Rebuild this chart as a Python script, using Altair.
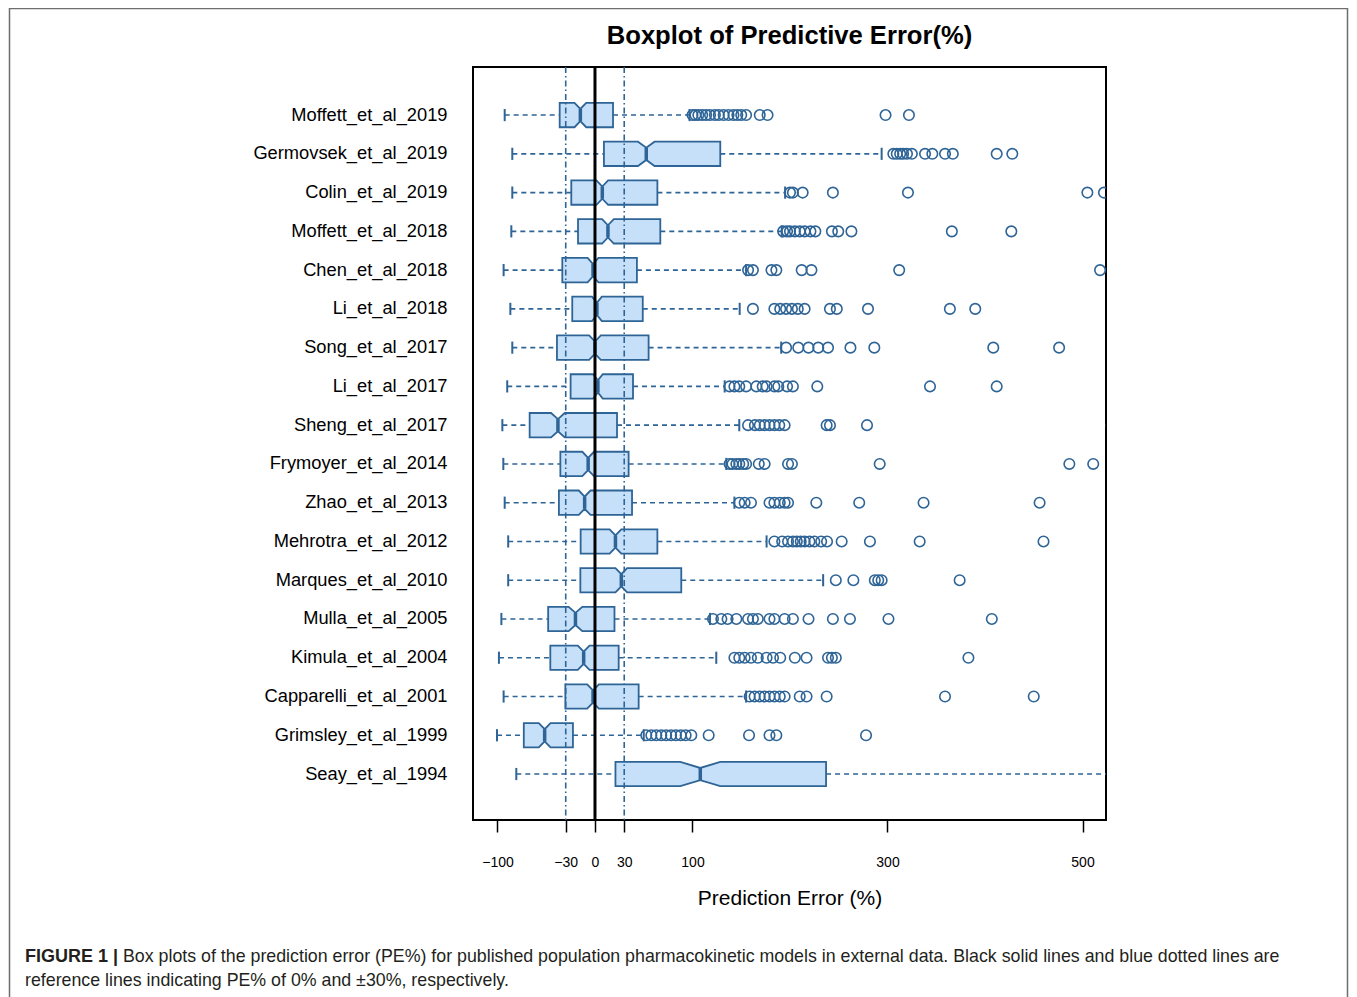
import altair as alt
import pandas as pd

names = ["Moffett_et_al_2019", "Germovsek_et_al_2019", "Colin_et_al_2019", "Moffett_et_al_2018",
         "Chen_et_al_2018", "Li_et_al_2018", "Song_et_al_2017", "Li_et_al_2017", "Sheng_et_al_2017",
         "Frymoyer_et_al_2014", "Zhao_et_al_2013", "Mehrotra_et_al_2012", "Marques_et_al_2010",
         "Mulla_et_al_2005", "Kimula_et_al_2004", "Capparelli_et_al_2001", "Grimsley_et_al_1999",
         "Seay_et_al_1994"]
wlo = [-92.6, -84.8, -84.8, -85.8, -93.7, -86.8, -84.8, -90, -95, -94, -92.6, -89, -89, -96, -98.5, -93.7, -100.5, -80.7]
q1 = [-36.2, 9.2, -24.3, -17.4, -33.5, -23.3, -39, -25, -67, -35.5, -37, -14.7, -15, -48, -45.8, -30.4, -73, 21]
med = [-15, 52.6, 7.5, 13.3, -2, 2, 0, 3, -38, -7, -10.6, 21, 27, -20, -11.6, -2, -51.6, 108]
q3 = [18.5, 128.5, 64, 67, 43, 49, 55, 39, 22.6, 34.5, 38, 64, 88.5, 20, 24.3, 44.8, -22.6, 237]
whi = [97, 294, 195, 191.5, 155, 148.4, 191, 133, 148, 134.7, 143, 176, 234, 118, 124.4, 155, 50, 560]
notch = [6, 8.5, 6, 6, 5.5, 5, 6, 5, 7, 6, 6, 6, 6, 7, 6, 6, 6, 20.5]
outliers = [
    [100, 103, 106, 110, 114, 118, 123, 127, 132, 137, 142, 146, 150, 155, 169, 177, 298, 322],
    [306, 309.5, 313, 316, 320, 325, 338.5, 346, 359, 367, 412, 428],
    [200, 203, 213, 244, 321, 505, 522],
    [193, 197, 200, 205, 210, 215, 221, 226, 243, 249.5, 263, 366, 427],
    [157, 162, 181, 186, 212, 222, 312, 518],
    [162, 184, 190, 196, 202, 208, 215, 241, 248, 280, 364, 390],
    [196, 208.5, 219, 229, 239, 262, 286.5, 408.5, 476],
    [138, 143, 148, 155, 165.5, 172, 176, 184, 188, 197, 203, 228, 343.6, 412],
    [157, 164, 169, 174, 179, 184, 189, 194.5, 237.6, 241, 279, 530],
    [138, 141, 145, 148, 152, 155, 168, 174, 198, 202, 292, 486.5, 511],
    [148, 153.5, 160, 179, 184, 189.5, 194.5, 198, 227, 271, 337, 456],
    [184, 192, 198, 203, 207, 211, 215, 220, 225, 232, 238, 253, 282, 333, 460],
    [247, 265, 287, 290.5, 294, 374],
    [121, 129.6, 136, 145, 157, 162, 167, 179, 184, 194.5, 203, 219, 244, 261.5, 301, 407],
    [143, 148, 153.5, 160, 167, 176, 182.6, 190, 205, 217, 239, 243, 247, 383],
    [158.6, 163.7, 168.9, 174, 179, 184, 189.5, 194.5, 210, 217, 237.6, 359, 450],
    [52.6, 57.8, 62.9, 68, 73, 78, 83, 88, 93, 98.8, 116.6, 158, 179, 186, 278],
    [],
]
x_ticks = [-100, -30, 0, 30, 100, 300, 500]
ref_blue = [-30, 30]
ref_black = [0]

FILL = "#c6e0f9"
STROKE = "#2e6496"
FONT = "Liberation Sans"
H = 0.314   # half box height (row units)
HN = 0.157  # half height at the notch / caps

# ---- build tables ----
poly = []
stats = []
for i, nm in enumerate(names):
    pts = [(q1[i], H), (med[i] - notch[i], H), (med[i], HN), (med[i] + notch[i], H), (q3[i], H)]
    for k, (xv, hh) in enumerate(pts):
        poly.append({"study": nm, "row": i, "idx": k, "x": xv, "top": i - hh, "bot": i + hh})
    stats.append({"study": nm, "row": i, "wlo": wlo[i], "q1": q1[i], "med": med[i], "q3": q3[i],
                  "whi": whi[i], "ctop": i - HN, "cbot": i + HN})
poly = pd.DataFrame(poly)
stats = pd.DataFrame(stats)
outs = pd.DataFrame([{"study": names[i], "row": i, "v": v} for i in range(len(names)) for v in outliers[i]])

xscale = alt.Scale(domain=[-125.1, 524.1], nice=False, zero=False)
yscale = alt.Scale(domain=[-1.24, 18.186], nice=False, zero=False, reverse=True)
label_expr = "[" + ",".join("'" + n + "'" for n in names) + "][datum.value]"

xaxis = alt.Axis(values=x_ticks, tickSize=12, tickWidth=1.5, tickColor="black", domain=False, grid=False,
                 labelFontSize=14, labelPadding=23, labelColor="black", labelFont=FONT,
                 title="Prediction Error (%)", titleFontSize=21, titleFontWeight="normal",
                 titleColor="black", titleFont=FONT, titlePadding=18, labelFlush=False)
yaxis = alt.Axis(values=list(range(len(names))), labelExpr=label_expr, ticks=False, domain=False, grid=False,
                 labelFontSize=18.3, labelPadding=26, labelColor="black", labelFont=FONT, labelLimit=500,
                 title="")


def X(field):
    return alt.X(field, scale=xscale, axis=xaxis)


def Y(field):
    return alt.Y(field, scale=yscale, axis=yaxis, stack=None)


boxes = alt.Chart(poly).mark_area(orient="vertical", fill=FILL, stroke=STROKE, strokeWidth=1.8,
                                  opacity=1, clip=True, interpolate="linear").encode(
    x=X("x:Q"),
    y=Y("top:Q"),
    y2="bot:Q",
    detail="study:N",
)

base = alt.Chart(stats)
w_low = base.mark_rule(color=STROKE, strokeWidth=1.6, strokeDash=[5, 4], clip=True).encode(
    x=X("wlo:Q"), x2="q1:Q", y=Y("row:Q"))
w_high = base.mark_rule(color=STROKE, strokeWidth=1.6, strokeDash=[5, 4], clip=True).encode(
    x=X("q3:Q"), x2="whi:Q", y=Y("row:Q"))
cap_low = base.mark_rule(color=STROKE, strokeWidth=2, clip=True).encode(
    x=X("wlo:Q"), y=Y("ctop:Q"), y2="cbot:Q")
cap_high = base.mark_rule(color=STROKE, strokeWidth=2, clip=True).encode(
    x=X("whi:Q"), y=Y("ctop:Q"), y2="cbot:Q")
medians = base.mark_rule(color=STROKE, strokeWidth=3.5, clip=True).encode(
    x=X("med:Q"), y=Y("ctop:Q"), y2="cbot:Q")

points = alt.Chart(outs).mark_point(shape="circle", filled=False, color=STROKE, size=110,
                                    strokeWidth=1.6, opacity=1, clip=True).encode(
    x=X("v:Q"),
    y=Y("row:Q"),
)

ref1 = alt.Chart(pd.DataFrame({"r": ref_blue})).mark_rule(color=STROKE, strokeWidth=1.6,
                                                          strokeDash=[6, 3, 1.5, 3]).encode(x=X("r:Q"))
ref0 = alt.Chart(pd.DataFrame({"r": ref_black})).mark_rule(color="black", strokeWidth=3).encode(x=X("r:Q"))

one = pd.DataFrame({"a": [0]})
frame = alt.Chart(one).mark_rect(fill="white", fillOpacity=0, stroke="#6e6e6e", strokeWidth=1.5).encode(
    x=alt.value(-463.5), x2=alt.value(874.5), y=alt.value(-58.5), y2=alt.value(950))

title = alt.Chart(one).mark_text(font=FONT, fontSize=25.6, fontWeight="bold", color="black",
                                 align="center", baseline="middle").encode(
    x=alt.value(316.5), y=alt.value(-31), text=alt.value("Boxplot of Predictive Error(%)"))

cap_b = alt.Chart(one).mark_text(font=FONT, fontSize=18, fontWeight="bold", color="#231f20",
                                 align="left", baseline="middle").encode(
    x=alt.value(-448), y=alt.value(890), text=alt.value("FIGURE 1 |"))
cap_1 = alt.Chart(one).mark_text(font=FONT, fontSize=17.8, color="#231f20", align="left",
                                 baseline="middle").encode(
    x=alt.value(-350), y=alt.value(890),
    text=alt.value("Box plots of the prediction error (PE%) for published population pharmacokinetic "
                   "models in external data. Black solid lines and blue dotted lines are"))
cap_2 = alt.Chart(one).mark_text(font=FONT, fontSize=17.8, color="#231f20", align="left",
                                 baseline="middle").encode(
    x=alt.value(-448), y=alt.value(914),
    text=alt.value("reference lines indicating PE% of 0% and \u00b130%, respectively."))

chart = alt.layer(
    frame, boxes, w_low, w_high, cap_low, cap_high, medians, points, ref1, ref0,
    title, cap_b, cap_1, cap_2,
).properties(
    width=633, height=753,
    background="white",
    autosize=alt.AutoSizeParams(type="none"),
    padding={"left": 465, "top": 59, "right": 243, "bottom": 177},
).configure_view(
    stroke="black", strokeWidth=2, fill="white"
)

chart.save("out.html", embed_options={"renderer": "svg", "actions": False})
